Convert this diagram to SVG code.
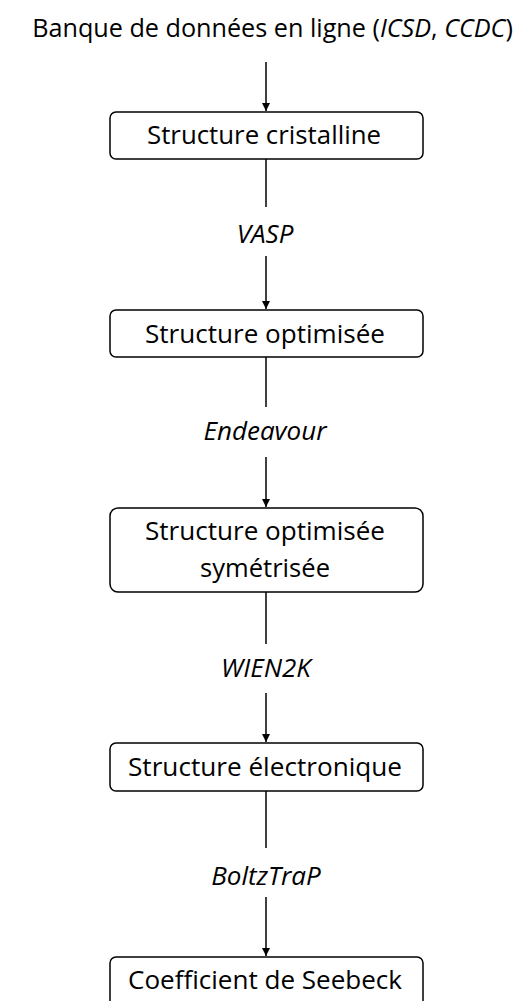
<svg xmlns="http://www.w3.org/2000/svg" width="519" height="1001" viewBox="0 0 519 1001">
<style>
  text { font-family: "Open Sans", "Liberation Sans", sans-serif; font-size: 26px; fill: #000; text-anchor: middle; }
  .lbl { font-style: italic; }
  .title { font-size: 25.2px; }
  .box { fill: #fff; stroke: #000; stroke-width: 1.5; }
  .wire { stroke: #000; stroke-width: 1.5; fill: none; }
</style>
<defs>
  <marker id="ah" markerUnits="userSpaceOnUse" markerWidth="9" markerHeight="9" refX="8" refY="4" orient="auto">
    <path d="M0,0 L8,4 L0,8 z" fill="#000"/>
  </marker>
</defs>
<rect width="519" height="1001" fill="#fff"/>
<g id="connectors">
  <line class="wire" x1="266" y1="62" x2="266" y2="111" marker-end="url(#ah)"/>
  <line class="wire" x1="266" y1="159" x2="266" y2="207"/>
  <line class="wire" x1="266" y1="256" x2="266" y2="309" marker-end="url(#ah)"/>
  <line class="wire" x1="266" y1="357" x2="266" y2="407"/>
  <line class="wire" x1="266" y1="457" x2="266" y2="507" marker-end="url(#ah)"/>
  <line class="wire" x1="266" y1="592" x2="266" y2="644"/>
  <line class="wire" x1="266" y1="693" x2="266" y2="742" marker-end="url(#ah)"/>
  <line class="wire" x1="266" y1="791" x2="266" y2="848"/>
  <line class="wire" x1="266" y1="897" x2="266" y2="956" marker-end="url(#ah)"/>
</g>
<g id="labels">
  <text class="lbl" x="265" y="243">VASP</text>
  <text class="lbl" x="265" y="440">Endeavour</text>
  <text class="lbl" x="266" y="677">WIEN2K</text>
  <text class="lbl" x="266" y="885">BoltzTraP</text>
</g>
<g id="source">
  <text class="title" x="272.5" y="37">Banque de données en ligne (<tspan font-style="italic">ICSD</tspan>, <tspan font-style="italic">CCDC</tspan>)</text>
</g>
<g id="n1">
  <rect class="box" x="110" y="112" width="313" height="47" rx="6"/>
  <text x="264" y="144" textLength="234" lengthAdjust="spacingAndGlyphs">Structure cristalline</text>
</g>
<g id="n2">
  <rect class="box" x="110" y="310" width="313" height="47" rx="6"/>
  <text x="265" y="343" textLength="240" lengthAdjust="spacingAndGlyphs">Structure optimisée</text>
</g>
<g id="n3">
  <rect class="box" x="110" y="508" width="313" height="84" rx="8"/>
  <text x="265" y="540" textLength="240" lengthAdjust="spacingAndGlyphs">Structure optimisée</text>
  <text x="265" y="577" textLength="130" lengthAdjust="spacingAndGlyphs">symétrisée</text>
</g>
<g id="n4">
  <rect class="box" x="110" y="743" width="313" height="48" rx="6"/>
  <text x="265" y="776" textLength="274" lengthAdjust="spacingAndGlyphs">Structure électronique</text>
</g>
<g id="n5">
  <rect class="box" x="110" y="957" width="313" height="60" rx="6"/>
  <text x="265" y="989" textLength="274" lengthAdjust="spacingAndGlyphs">Coefficient de Seebeck</text>
</g>
</svg>
